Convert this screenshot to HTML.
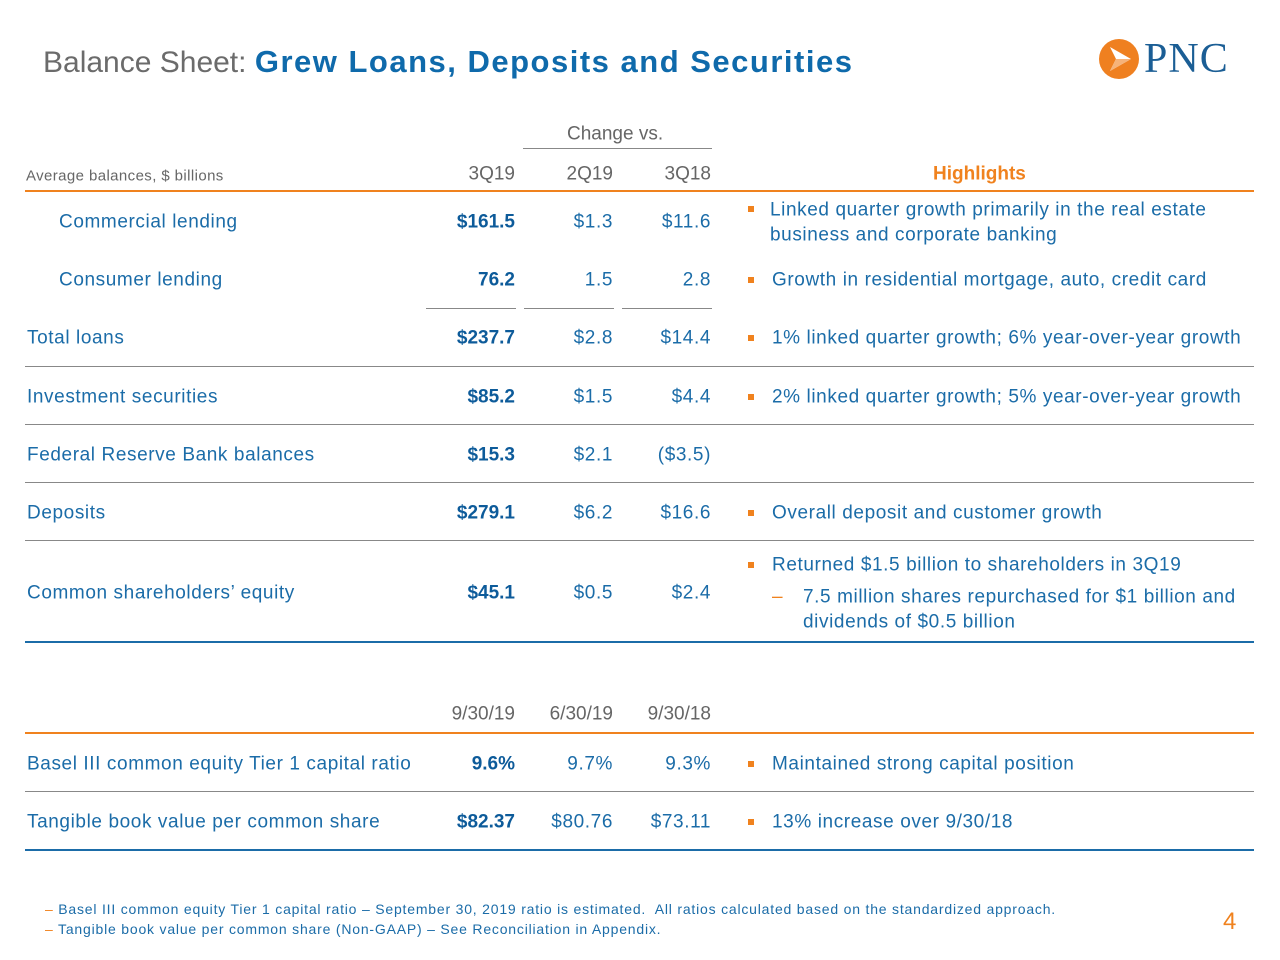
<!DOCTYPE html>
<html><head><meta charset="utf-8"><style>
body{margin:0;width:1280px;height:960px;background:#fff;font-family:"Liberation Sans",sans-serif;position:relative;overflow:hidden}
.t{position:absolute;white-space:nowrap;line-height:1;transform:translateY(-50%)}
.b{color:#1b6ca8;font-size:19px;letter-spacing:0.6px}
.v{color:#0d5b9a;font-weight:bold;font-size:19px}
.r{text-align:right}
.g{color:#666}
.l{position:absolute;left:25px;width:1229px;height:1px;background:#888}
.bul{position:absolute;width:6px;height:6px;background:#f0821e}
.f{font-size:14px;color:#1b6ca8;letter-spacing:0.8px}
</style></head><body>
<div class="t" style="left:43px;top:62px;font-size:30px;color:#6b6b6b">Balance Sheet: <span style="color:#0f6aab;font-weight:bold;font-size:31px;letter-spacing:1.5px">Grew Loans, Deposits and Securities</span></div>
<svg style="position:absolute;left:1098px;top:38px" width="42" height="42"><circle cx="21" cy="21" r="20" fill="#ef8020"/><path d="M12 9 L33 21 L12 33 L18 21Z" fill="#fff"/><path d="M18 21 L33 21 L12 33Z" fill="#f6b37a"/></svg>
<div class="t" style="left:1144px;top:59px;font-family:'Liberation Serif',serif;font-size:42px;color:#1b5e95;letter-spacing:1px">PNC</div>

<div class="t g" style="left:567px;top:134px;font-size:19px">Change vs.</div>
<div style="position:absolute;left:523px;top:148px;width:189px;height:1px;background:#888"></div>
<div class="t g" style="left:26px;top:176px;font-size:15px;letter-spacing:0.4px">Average balances, $ billions</div>
<div class="t g r" style="right:765px;top:174px;font-size:19px">3Q19</div>
<div class="t g r" style="right:667px;top:174px;font-size:19px">2Q19</div>
<div class="t g r" style="right:569px;top:174px;font-size:19px">3Q18</div>
<div class="t" style="left:933px;top:174px;font-size:19px;font-weight:bold;color:#f0821e">Highlights</div>
<div class="l" style="top:190px;height:2px;background:#f0821e"></div>

<div class="t b" style="left:59px;top:222px">Commercial lending</div>
<div class="t v r" style="right:765px;top:222px">$161.5</div>
<div class="t b r" style="right:667px;top:222px">$1.3</div>
<div class="t b r" style="right:569px;top:222px">$11.6</div>
<div class="bul" style="left:748px;top:206px"></div>
<div class="t b" style="left:770px;top:210px">Linked quarter growth primarily in the real estate</div>
<div class="t b" style="left:770px;top:235px">business and corporate banking</div>

<div class="t b" style="left:59px;top:280px">Consumer lending</div>
<div class="t v r" style="right:765px;top:280px">76.2</div>
<div class="t b r" style="right:667px;top:280px">1.5</div>
<div class="t b r" style="right:569px;top:280px">2.8</div>
<div class="bul" style="left:748px;top:277px"></div>
<div class="t b" style="left:772px;top:280px">Growth in residential mortgage, auto, credit card</div>
<div style="position:absolute;left:426px;top:308px;width:90px;height:1px;background:#888"></div>
<div style="position:absolute;left:524px;top:308px;width:90px;height:1px;background:#888"></div>
<div style="position:absolute;left:622px;top:308px;width:90px;height:1px;background:#888"></div>

<div class="t b" style="left:27px;top:338px">Total loans</div>
<div class="t v r" style="right:765px;top:338px">$237.7</div>
<div class="t b r" style="right:667px;top:338px">$2.8</div>
<div class="t b r" style="right:569px;top:338px">$14.4</div>
<div class="bul" style="left:748px;top:335px"></div>
<div class="t b" style="left:772px;top:338px">1% linked quarter growth; 6% year-over-year growth</div>
<div class="l" style="top:366px"></div>

<div class="t b" style="left:27px;top:397px">Investment securities</div>
<div class="t v r" style="right:765px;top:397px">$85.2</div>
<div class="t b r" style="right:667px;top:397px">$1.5</div>
<div class="t b r" style="right:569px;top:397px">$4.4</div>
<div class="bul" style="left:748px;top:394px"></div>
<div class="t b" style="left:772px;top:397px">2% linked quarter growth; 5% year-over-year growth</div>
<div class="l" style="top:424px"></div>

<div class="t b" style="left:27px;top:455px">Federal Reserve Bank balances</div>
<div class="t v r" style="right:765px;top:455px">$15.3</div>
<div class="t b r" style="right:667px;top:455px">$2.1</div>
<div class="t b r" style="right:569px;top:455px">($3.5)</div>
<div class="l" style="top:482px"></div>

<div class="t b" style="left:27px;top:513px">Deposits</div>
<div class="t v r" style="right:765px;top:513px">$279.1</div>
<div class="t b r" style="right:667px;top:513px">$6.2</div>
<div class="t b r" style="right:569px;top:513px">$16.6</div>
<div class="bul" style="left:748px;top:510px"></div>
<div class="t b" style="left:772px;top:513px">Overall deposit and customer growth</div>
<div class="l" style="top:540px"></div>

<div class="t b" style="left:27px;top:593px">Common shareholders’ equity</div>
<div class="t v r" style="right:765px;top:593px">$45.1</div>
<div class="t b r" style="right:667px;top:593px">$0.5</div>
<div class="t b r" style="right:569px;top:593px">$2.4</div>
<div class="bul" style="left:748px;top:562px"></div>
<div class="t b" style="left:772px;top:565px">Returned $1.5 billion to shareholders in 3Q19</div>
<div class="t" style="left:772px;top:597px;color:#f0821e;font-size:19px">–</div>
<div class="t b" style="left:803px;top:597px">7.5 million shares repurchased for $1 billion and</div>
<div class="t b" style="left:803px;top:622px">dividends of $0.5 billion</div>
<div class="l" style="top:641px;height:2px;background:#1b6ca8"></div>

<div class="t g r" style="right:765px;top:714px;font-size:19px">9/30/19</div>
<div class="t g r" style="right:667px;top:714px;font-size:19px">6/30/19</div>
<div class="t g r" style="right:569px;top:714px;font-size:19px">9/30/18</div>
<div class="l" style="top:732px;height:2px;background:#f0821e"></div>

<div class="t b" style="left:27px;top:764px">Basel III common equity Tier 1 capital ratio</div>
<div class="t v r" style="right:765px;top:764px">9.6%</div>
<div class="t b r" style="right:667px;top:764px">9.7%</div>
<div class="t b r" style="right:569px;top:764px">9.3%</div>
<div class="bul" style="left:748px;top:761px"></div>
<div class="t b" style="left:772px;top:764px">Maintained strong capital position</div>
<div class="l" style="top:791px"></div>

<div class="t b" style="left:27px;top:822px">Tangible book value per common share</div>
<div class="t v r" style="right:765px;top:822px">$82.37</div>
<div class="t b r" style="right:667px;top:822px">$80.76</div>
<div class="t b r" style="right:569px;top:822px">$73.11</div>
<div class="bul" style="left:748px;top:819px"></div>
<div class="t b" style="left:772px;top:822px">13% increase over 9/30/18</div>
<div class="l" style="top:849px;height:2px;background:#1b6ca8"></div>

<div class="t f" style="left:45px;top:909px"><span style="color:#f0821e">–</span> Basel III common equity Tier 1 capital ratio – September 30, 2019 ratio is estimated.&nbsp; All ratios calculated based on the standardized approach.</div>
<div class="t f" style="left:45px;top:929px"><span style="color:#f0821e">–</span> Tangible book value per common share (Non-GAAP) – See Reconciliation in Appendix.</div>
<div class="t" style="left:1223px;top:922px;font-size:24px;color:#f0821e">4</div>
</body></html>
